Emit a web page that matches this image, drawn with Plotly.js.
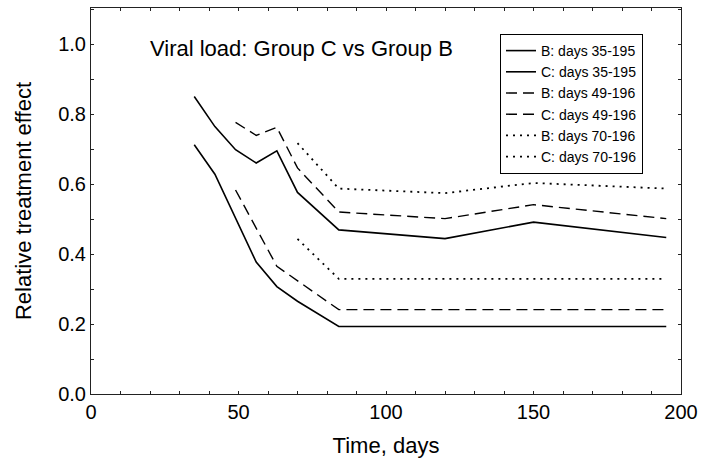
<!DOCTYPE html>
<html>
<head>
<meta charset="utf-8">
<script src="https://cdn.plot.ly/plotly-3.0.1.min.js"></script>
<style>
  html, body { margin: 0; padding: 0; background: #fff; }
  #chart { width: 701px; height: 463px; }
</style>
</head>
<body>
<div id="chart"></div>
<script>
// Relative treatment effect over time, three analysis windows per group
const daysB35 = [35, 42, 56, 63, 70, 84, 120, 150, 195];
const effB35  = [0.712, 0.628, 0.377, 0.307, 0.265, 0.193, 0.193, 0.193, 0.193];

const daysC35 = [35, 42, 49, 56, 63, 70, 84, 120, 150, 195];
const effC35  = [0.850, 0.764, 0.698, 0.660, 0.695, 0.576, 0.469, 0.444, 0.491, 0.447];

const daysB49 = [49, 63, 84, 120, 150, 195];
const effB49  = [0.583, 0.365, 0.241, 0.241, 0.241, 0.241];

const daysC49 = [49, 56, 63, 70, 84, 120, 150, 195];
const effC49  = [0.776, 0.739, 0.762, 0.646, 0.520, 0.501, 0.541, 0.501];

const daysB70 = [70, 84, 120, 150, 195];
const effB70  = [0.443, 0.329, 0.329, 0.329, 0.329];

const daysC70 = [70, 84, 120, 150, 195];
const effC70  = [0.717, 0.587, 0.574, 0.603, 0.587];

const seriesNames = [
  'B: days 35-195', 'C: days 35-195',
  'B: days 49-196', 'C: days 49-196',
  'B: days 70-196', 'C: days 70-196'
];

const FONT = 'Liberation Sans, Arial, Helvetica, sans-serif';
const solid = { color: '#000', width: 1.6, dash: 'solid' };
const dashed = { color: '#000', width: 1.4, dash: '11px,6px' };
const dotted = { color: '#000', width: 1.8, dash: '2px,5px' };

function series(x, y, name, line) {
  return { x: x, y: y, name: name, type: 'scatter', mode: 'lines', line: line };
}

const data = [
  series(daysB35, effB35, seriesNames[0], solid),
  series(daysC35, effC35, seriesNames[1], solid),
  series(daysB49, effB49, seriesNames[2], dashed),
  series(daysC49, effC49, seriesNames[3], dashed),
  series(daysB70, effB70, seriesNames[4], dotted),
  series(daysC70, effC70, seriesNames[5], dotted)
];

const axisCommon = {
  showline: true, linecolor: '#222', linewidth: 1, mirror: 'allticks',
  ticks: 'inside', ticklen: 3, tickcolor: '#222', tickwidth: 1,
  showgrid: false, zeroline: false,
  tickfont: { family: FONT, size: 20, color: '#000' }
};

const layout = {
  width: 701, height: 463,
  margin: { l: 91, r: 20, t: 8, b: 69 },
  paper_bgcolor: '#fff', plot_bgcolor: '#fff',
  font: { family: FONT, color: '#000' },
  title: {
    text: 'Viral load: Group C vs Group B',
    font: { family: FONT, size: 22, color: '#000' },
    x: 150 / 701, xanchor: 'left', xref: 'container',
    y: 1 - 48 / 463, yanchor: 'middle', yref: 'container'
  },
  xaxis: Object.assign({}, axisCommon, {
    range: [0, 200], dtick: 50, tick0: 0,
    minor: { dtick: 10, ticks: 'inside', ticklen: 3, tickcolor: '#222' },
    title: { text: 'Time, days', font: { family: FONT, size: 22, color: '#000' }, standoff: 15 }
  }),
  yaxis: Object.assign({}, axisCommon, {
    range: [0, 1.103], dtick: 0.2, tick0: 0, tickformat: '.1f',
    minor: { dtick: 0.1, ticks: 'inside', ticklen: 3, tickcolor: '#222' },
    title: { text: 'Relative treatment effect', font: { family: FONT, size: 22, color: '#000' }, standoff: 20 }
  }),
  showlegend: true,
  legend: {
    x: (500 - 91) / 590, xanchor: 'left',
    y: (394 - 34) / 386, yanchor: 'top',
    bgcolor: '#fff', bordercolor: '#000', borderwidth: 1,
    font: { family: FONT, size: 14, color: '#000' }
  }
};

Plotly.newPlot('chart', data, layout, { staticPlot: true, displayModeBar: false });
</script>
</body>
</html>
